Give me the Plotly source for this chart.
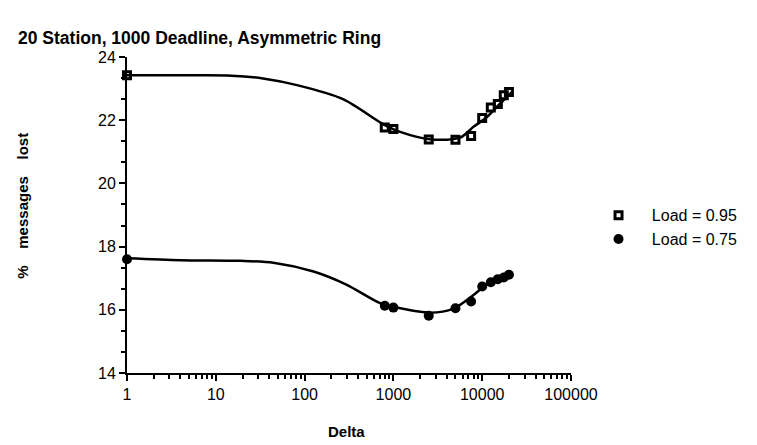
import plotly.graph_objects as go

# ---- data ----
delta = [1, 800, 1000, 2500, 5000, 7500, 10000, 12500, 15000, 17500, 20000]
lost_095 = [23.42, 21.77, 21.72, 21.39, 21.38, 21.50, 22.07, 22.40, 22.51, 22.79, 22.89]
lost_075 = [17.60, 16.13, 16.07, 15.81, 16.05, 16.26, 16.74, 16.87, 16.97, 17.02, 17.11]

# smoothed fit curves as drawn in the reference
fit_x_095 = [1, 5, 15, 34, 82, 274, 773, 1190, 2710, 5650, 7980, 11300, 15960, 21600]
fit_y_095 = [23.42, 23.42, 23.41, 23.32, 23.11, 22.66, 21.87, 21.63, 21.39, 21.45, 21.79, 22.10, 22.53, 22.89]
fit_x_075 = [1, 4, 18.8, 44.5, 126, 299, 709, 1190, 2595, 4750, 7980, 11300, 15960, 21600]
fit_y_075 = [17.63, 17.57, 17.55, 17.49, 17.21, 16.79, 16.21, 16.05, 15.91, 16.04, 16.47, 16.81, 16.97, 17.10]

x_tickvals = [1, 10, 100, 1000, 10000, 100000]
x_ticktext = ["1", "10", "100", "1000", "10000", "100000"]
y_tickvals = [14, 16, 18, 20, 22, 24]

FONT = "Liberation Sans"
NB = "\u00a0"

fig = go.Figure()
fig.add_trace(go.Scatter(x=fit_x_095, y=fit_y_095, mode="lines", line=dict(color="black", width=2.5, shape="spline", smoothing=0.8),
                         showlegend=False, hoverinfo="skip", cliponaxis=False))
fig.add_trace(go.Scatter(x=fit_x_075, y=fit_y_075, mode="lines", line=dict(color="black", width=2.5, shape="spline", smoothing=0.8),
                         showlegend=False, hoverinfo="skip", cliponaxis=False))
fig.add_trace(go.Scatter(x=delta, y=lost_095, mode="markers", name=NB * 3 + "Load = 0.95",
                         marker=dict(symbol="square-open", size=7, color="black", line=dict(color="black", width=3)),
                         cliponaxis=False))
fig.add_trace(go.Scatter(x=delta, y=lost_075, mode="markers", name=NB * 3 + "Load = 0.75",
                         marker=dict(symbol="circle", size=10, color="black"),
                         cliponaxis=False))

fig.update_layout(
    width=757, height=445,
    margin=dict(l=127, r=186, t=57, b=72),
    plot_bgcolor="white", paper_bgcolor="white",
    font=dict(family=FONT, color="black"),
    title=dict(text="<b>20 Station, 1000 Deadline, Asymmetric Ring</b>",
               x=18/757, xref="container", xanchor="left",
               y=1-38/445, yref="container", yanchor="middle",
               font=dict(size=17.5, family=FONT, color="black")),
    legend=dict(x=1.062, y=0.553, xanchor="left", yanchor="top",
                font=dict(size=16, family=FONT, color="black"),
                bgcolor="rgba(0,0,0,0)", tracegroupgap=0),
    showlegend=True,
)

fig.update_xaxes(type="log", range=[0, 5], tickvals=x_tickvals, ticktext=x_ticktext,
                 ticks="outside", ticklen=6, tickwidth=2, tickcolor="black",
                 showline=True, linewidth=2, linecolor="black", showgrid=False, zeroline=False,
                 tickfont=dict(size=16, family=FONT, color="black"),
                 minor=dict(dtick="D1", ticks="outside", ticklen=4, tickwidth=1.5, tickcolor="black", showgrid=False))
fig.update_yaxes(range=[14, 24], tickvals=y_tickvals,
                 ticks="outside", ticklen=6, tickwidth=2, tickcolor="black",
                 showline=True, linewidth=2, linecolor="black", showgrid=False, zeroline=False,
                 tickfont=dict(size=16, family=FONT, color="black"),
                 minor=dict(tick0=14, dtick=2/3, ticks="outside", ticklen=4, tickwidth=1.5, tickcolor="black", showgrid=False))

fig.add_annotation(text="<b>%" + NB * 4 + "messages" + NB * 4 + "lost</b>", xref="paper", yref="paper",
                   x=-0.236, y=0.53, textangle=-90, showarrow=False,
                   font=dict(size=15, family=FONT, color="black"), xanchor="center", yanchor="middle")
fig.add_annotation(text="<b>Delta</b>", xref="paper", yref="paper",
                   x=0.495, y=-0.185, showarrow=False,
                   font=dict(size=15, family=FONT, color="black"), xanchor="center", yanchor="middle")

fig.write_html("out.html")
